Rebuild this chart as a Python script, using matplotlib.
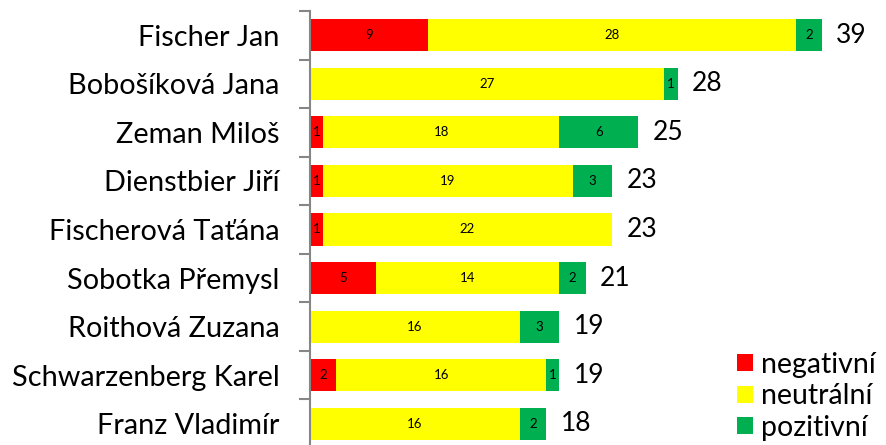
import matplotlib.pyplot as plt
import numpy as np

names = ["Fischer Jan", "Bobošíková Jana", "Zeman Miloš", "Dienstbier Jiří",
         "Fischerová Taťána", "Sobotka Přemysl", "Roithová Zuzana",
         "Schwarzenberg Karel", "Franz Vladimír"]
negativni = [9, 0, 1, 1, 1, 5, 0, 2, 0]
neutralni = [28, 27, 18, 19, 22, 14, 16, 16, 16]
pozitivni = [2, 1, 6, 3, 0, 2, 3, 1, 2]
celkem = [39, 28, 25, 23, 23, 21, 19, 19, 18]

plt.rcParams['font.family'] = ['Lato', 'DejaVu Sans']

fig = plt.figure(figsize=(8.87, 4.45), dpi=100)
ax = fig.add_axes([310 / 887, -3 / 445, 525 / 887, 437 / 445])

y = np.arange(len(names))
neg = np.array(negativni)
neu = np.array(neutralni)
pos = np.array(pozitivni)

series = [(neg, np.zeros(len(y)), '#FF0000', 'negativní'),
          (neu, neg, '#FFFF00', 'neutrální'),
          (pos, neg + neu, '#00B050', 'pozitivní')]
for vals, left, col, lab in series:
    bars = ax.barh(y, vals, left=left, height=0.66, color=col, label=lab)
    for b, v in zip(bars, vals):
        if v > 0:
            ax.text(b.get_x() + b.get_width() / 2, b.get_y() + b.get_height() / 2,
                    str(v), ha='center', va='center', fontsize=9.5)

for yi, t in zip(y, celkem):
    ax.text(t + 1.1, yi, str(t), ha='left', va='center', fontsize=19)

ax.set_xlim(0, 40)
ax.set_ylim(len(names) - 0.5, -0.5)
ax.set_yticks(y)
ax.set_yticklabels(names, fontsize=20.8)
ax.set_yticks(np.arange(-0.5, len(names), 1), minor=True)
ax.tick_params(axis='y', which='major', length=0, pad=22)
ax.tick_params(axis='y', which='minor', length=8, width=1.5, color='#868686')
ax.set_xticks([])
for s in ['top', 'right', 'bottom']:
    ax.spines[s].set_visible(False)
ax.spines['left'].set_color('#868686')
ax.spines['left'].set_linewidth(1.5)

ax.legend(loc='lower right', bbox_to_anchor=(1.1, -0.01), frameon=False,
          fontsize=20.5, handlelength=0.55, handleheight=0.55, handletextpad=0.3,
          labelspacing=0.2, borderaxespad=0)

fig.savefig('out.png', dpi=100)
